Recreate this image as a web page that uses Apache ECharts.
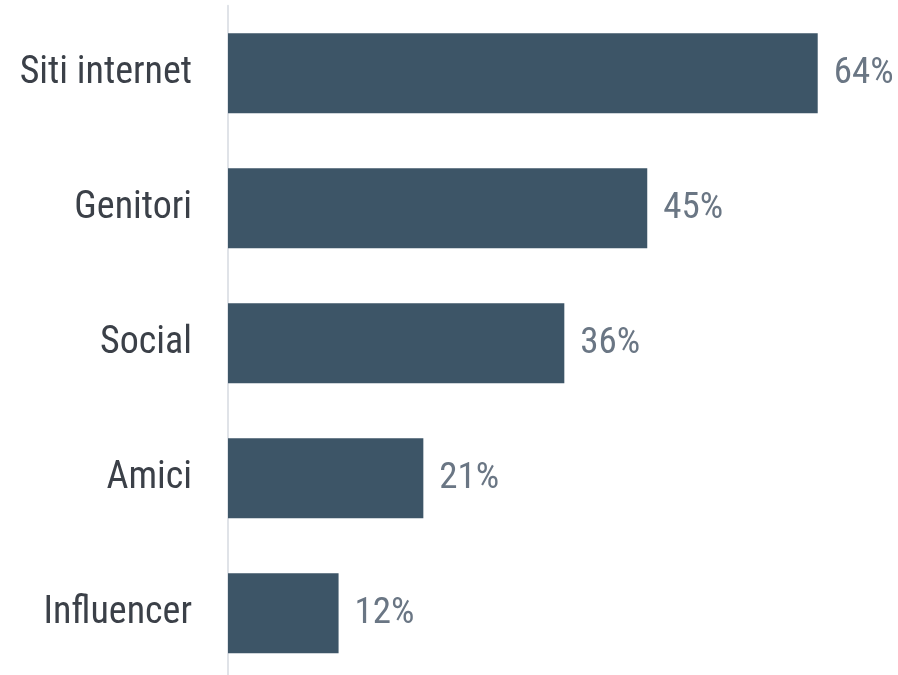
<!DOCTYPE html>
<html><head><meta charset="utf-8">
<script src="https://cdn.jsdelivr.net/npm/echarts@6/dist/echarts.min.js"></script>
<style>html,body{margin:0;padding:0;background:#fff}#c{width:898px;height:675px}</style>
</head><body><div id="c"></div>
<script>
const categories = ['Siti internet', 'Genitori', 'Social', 'Amici', 'Influencer'];
const values = [64, 45.5, 36.5, 21.2, 12];
const labels = ['64%', '45%', '36%', '21%', '12%'];

const chart = echarts.init(document.getElementById('c'), null, {renderer: 'canvas'});
chart.setOption({
  animation: false,
  grid: {left: 228, top: 5.8, width: 645, height: 675, containLabel: false, outerBoundsMode: 'none'},
  xAxis: {type: 'value', min: 0, max: 70, show: false},
  yAxis: {
    type: 'category', inverse: true, data: categories,
    axisLine: {show: true, lineStyle: {color: '#e0e3e8', width: 2}},
    axisTick: {show: false},
    axisLabel: {fontFamily: '"Roboto Condensed", Roboto', fontSize: 38, color: '#3b4048', margin: 36}
  },
  series: [{
    type: 'bar', data: values, barWidth: 80,
    itemStyle: {color: '#3d5567'},
    label: {show: true, position: 'right', distance: 16,
      formatter: p => labels[p.dataIndex],
      fontFamily: '"Roboto Condensed", Roboto', fontSize: 37, color: '#6a7684'}
  }]
});
</script></body></html>
